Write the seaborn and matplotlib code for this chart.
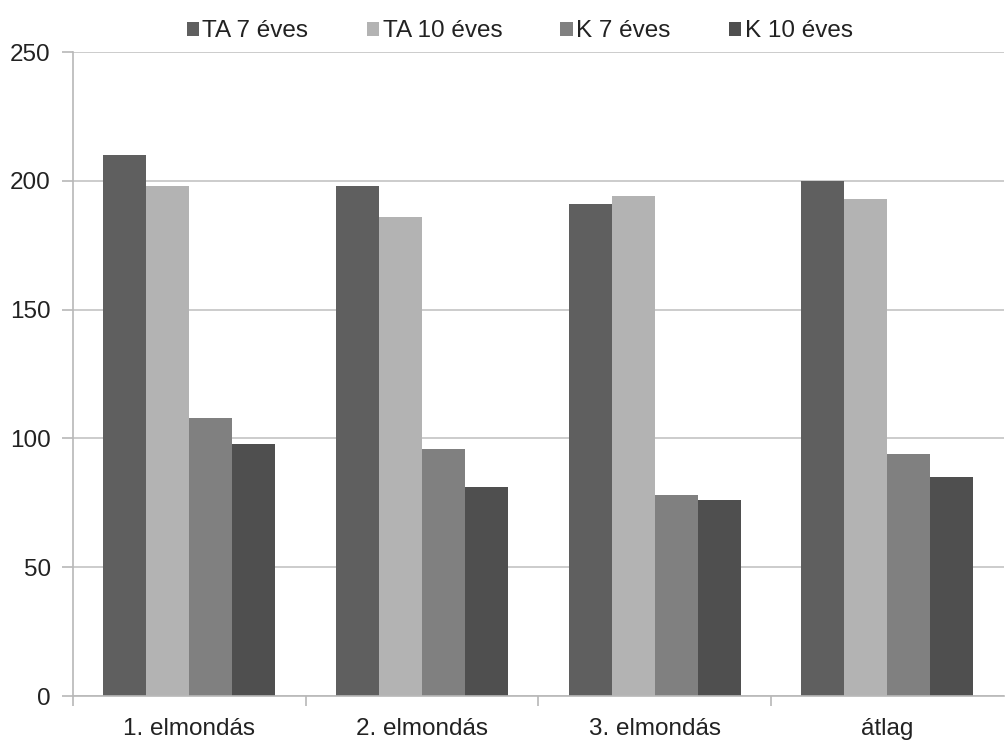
import numpy as np
import pandas as pd
import matplotlib
matplotlib.use("Agg")
import matplotlib.pyplot as plt
import seaborn as sns
from matplotlib.ticker import FixedLocator

categories = ["1. elmondás", "2. elmondás", "3. elmondás", "átlag"]
series = ["TA 7 éves", "TA 10 éves", "K 7 éves", "K 10 éves"]
ta7 = [210, 198, 191, 200]
ta10 = [198, 186, 194, 193]
k7 = [108, 96, 78, 94]
k10 = [98, 81, 76, 85]
colors = ["#5f5f5f", "#b3b3b3", "#808080", "#4f4f4f"]

rows = []
for name, vals in zip(series, [ta7, ta10, k7, k10]):
    for c, v in zip(categories, vals):
        rows.append({"cat": c, "series": name, "value": v})
df = pd.DataFrame(rows)

sns.set_style("white")
plt.rcParams["font.family"] = ["Liberation Sans", "DejaVu Sans"]

fig = plt.figure(figsize=(10.06, 7.41), dpi=100)
ax = fig.add_axes([0.0726, 0.0607, 0.925, 0.8691])

sns.barplot(data=df, x="cat", y="value", hue="series", order=categories,
            hue_order=series, palette=colors, width=0.74, gap=0,
            saturation=1, edgecolor="none", ax=ax, legend=True)

ax.set_ylim(0, 250)
ax.set_xlim(-0.5, 3.5)
ax.set_yticks([0, 50, 100, 150, 200, 250])
ax.yaxis.grid(True, color="#c4c4c4", linewidth=1.2)
ax.set_axisbelow(True)
for s in ["top", "right"]:
    ax.spines[s].set_visible(False)
for s in ["left", "bottom"]:
    ax.spines[s].set_color("#b8b8b8")
    ax.spines[s].set_linewidth(1.2)
ax.set_xlabel("")
ax.set_ylabel("")
ax.tick_params(axis="y", left=True, length=8, color="#b8b8b8", width=1.2,
               labelsize=17.5, pad=8, labelcolor="#222222")
ax.tick_params(axis="x", which="major", bottom=True, length=0, labelsize=17.5,
               pad=16, labelcolor="#222222")
ax.xaxis.set_minor_locator(FixedLocator([-0.5, 0.5, 1.5, 2.5]))
ax.tick_params(axis="x", which="minor", bottom=True, length=7,
               color="#b8b8b8", width=1.2)

handles, labels = ax.get_legend_handles_labels()
leg = ax.legend(handles, labels, loc="lower center", bbox_to_anchor=(0.48, 1.0),
                ncol=4, frameon=False, fontsize=17.5, handlelength=0.5,
                handleheight=0.5, handletextpad=0.15, columnspacing=2.4,
                borderaxespad=0.0)
for t in leg.get_texts():
    t.set_color("#222222")

fig.savefig("out.png", dpi=100)
